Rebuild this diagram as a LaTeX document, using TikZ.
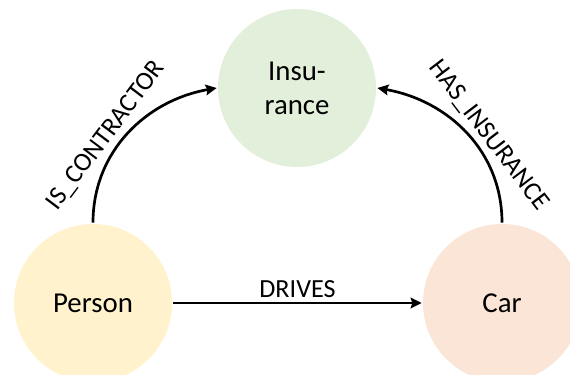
\documentclass[tikz,border=0pt]{standalone}
\usepackage{fontspec}
\setmainfont{Carlito}
\usetikzlibrary{positioning, arrows.meta}

\definecolor{perfill}{HTML}{FFF2CC}
\definecolor{carfill}{HTML}{FBE5D6}
\definecolor{insfill}{HTML}{E2EFDA}

\begin{document}
\begin{tikzpicture}[node distance=12.27cm, on grid, auto,
    entity/.style={circle, minimum size=4.74cm, inner sep=0pt, align=center,
      font=\fontsize{24.6}{29}\selectfont},
    rel/.style={font=\fontsize{22.3}{26}\selectfont},
    >={Stealth[length=0.33cm, width=0.32cm, inset=0.05cm]}, line width=2.3pt]
  \useasboundingbox (-2.79,-2.13) rectangle (14.31,9.09);
  \node[entity, fill=perfill] (per) {Person};
  \node[entity, fill=carfill] (car) [right=of per] {Car};
  \node[entity, fill=insfill] (ins) [above right=6.45cm and 6.12cm of per] {Insu-\\rance};
  \path[->]
    (per) edge node[rel] {DRIVES} (car)
    (per.north) edge [out=90, in=190] node[rel, sloped, pos=0.42] {IS\_CONTRACTOR} (ins.west)
    (ins.east) edge [<-, out=-10, in=90] node[rel, sloped, pos=0.58] {HAS\_INSURANCE} (car.north);
\end{tikzpicture}
\end{document}
